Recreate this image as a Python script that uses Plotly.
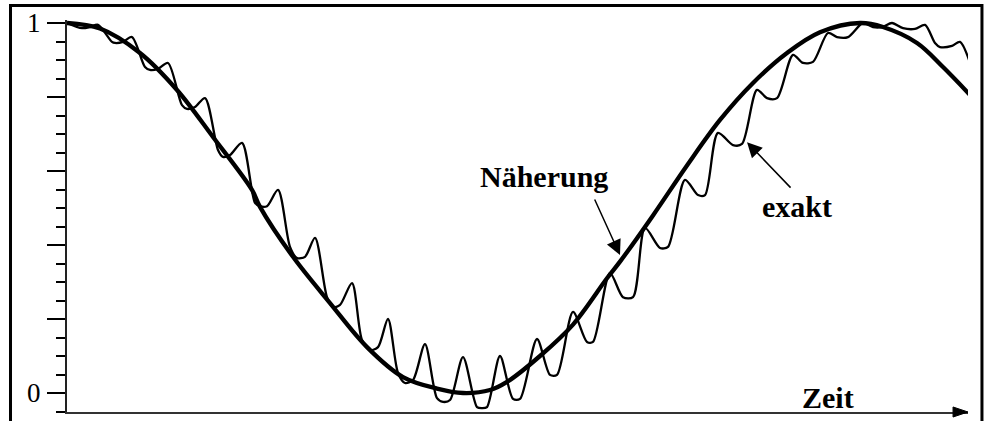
import plotly.graph_objects as go

# ---- data (time in arbitrary units, population 0..1) ----
t_naeherung = [0, 33, 73, 110, 146, 185, 193, 226, 263, 300, 336, 370, 396, 423, 440,
               473, 506, 540, 553, 586, 620, 653, 686, 720, 753, 793, 816, 850, 876, 906]
v_naeherung = [1.0, 0.985, 0.919, 0.819, 0.692, 0.549, 0.503, 0.368, 0.243, 0.124, 0.043,
               0.012, 0.0, 0.008, 0.03, 0.10, 0.185, 0.31, 0.355, 0.48, 0.615, 0.738,
               0.838, 0.919, 0.975, 1.0, 0.989, 0.946, 0.881, 0.797]

t_exakt = [0, 15, 23, 31, 45, 48, 56, 65, 78, 83, 91, 101, 115, 120, 128, 138, 151, 156,
           163, 175, 188, 193, 200, 211, 223, 230, 238, 248, 260, 266, 273, 285, 295, 303,
           311, 321, 331, 338, 346, 358, 370, 376, 383, 396, 410, 415, 420, 433, 446, 453,
           470, 483, 490, 506, 520, 526, 543, 556, 566, 578, 593, 601, 618, 631, 638, 651,
           666, 675, 690, 700, 710, 726, 736, 746, 761, 770, 781, 796, 806, 815, 825, 836,
           848, 858, 868, 873, 885, 893, 906]
v_exakt = [1.000, 0.986, 0.989, 0.995, 0.949, 0.946, 0.949, 0.962, 0.881, 0.873, 0.876,
           0.892, 0.778, 0.768, 0.773, 0.797, 0.657, 0.638, 0.643, 0.676, 0.514, 0.505,
           0.505, 0.549, 0.395, 0.365, 0.368, 0.419, 0.259, 0.232, 0.238, 0.297, 0.143,
           0.116, 0.124, 0.200, 0.054, 0.027, 0.035, 0.132, -0.014, -0.024, -0.019, 0.097,
           -0.038, -0.041, -0.038, 0.100, -0.016, -0.016, 0.146, 0.049, 0.049, 0.219,
           0.138, 0.138, 0.324, 0.259, 0.259, 0.446, 0.392, 0.395, 0.576, 0.535, 0.535,
           0.703, 0.670, 0.673, 0.819, 0.797, 0.797, 0.914, 0.892, 0.895, 0.973, 0.962,
           0.962, 1.000, 0.989, 0.989, 1.000, 0.986, 0.984, 0.995, 0.946, 0.935, 0.938,
           0.949, 0.868]

y_tickvals = [0, 0.2, 0.4, 0.6, 0.8, 1.0]
y_ticktext = ["0", "", "", "", "", "1"]

SERIF = "Liberation Serif, Times New Roman, serif"

fig = go.Figure()
fig.add_trace(go.Scatter(x=t_exakt, y=v_exakt, mode="lines",
                         line=dict(color="black", width=2.3, shape="spline", smoothing=0.8),
                         name="exakt", hoverinfo="skip"))
fig.add_trace(go.Scatter(x=t_naeherung, y=v_naeherung, mode="lines",
                         line=dict(color="black", width=4.3, shape="spline", smoothing=1.0),
                         name="Näherung", hoverinfo="skip"))

fig.update_layout(
    width=989, height=421,
    margin=dict(l=67, r=21, t=20, b=9),
    paper_bgcolor="white", plot_bgcolor="white",
    showlegend=False,
    xaxis=dict(range=[0, 901], showgrid=False, zeroline=False, showticklabels=False,
               ticks="", showline=True, linecolor="#333", linewidth=2),
    yaxis=dict(range=[-0.05135, 1.0081], showgrid=False, zeroline=False,
               tickmode="array", tickvals=y_tickvals, ticktext=y_ticktext,
               ticks="outside", ticklen=18, tickwidth=2, tickcolor="black",
               tickfont=dict(family=SERIF, size=27, color="black"),
               ticklabelstandoff=1,
               showline=True, linecolor="#222", linewidth=2,
               minor=dict(tickmode="linear", tick0=0, dtick=0.05, ticks="outside",
                          ticklen=9, tickwidth=2, tickcolor="black")),
)

# outer frame (bottom edge lies beyond the picture)
fig.add_shape(type="path", xref="paper", yref="paper",
              path="M -0.0627 -0.06 L -0.0627 1.0370 L 1.0155 1.0370 L 1.0155 -0.06",
              line=dict(color="black", width=3))
# arrowhead of the time axis
fig.add_shape(type="path", xref="paper", yref="paper",
              path="M 0.9834 0.0128 L 1.0 0 L 0.9834 -0.0128 Z",
              fillcolor="black", line=dict(color="black", width=1))

fig.add_annotation(x=477, y=0.584, text="<b>Näherung</b>", showarrow=False,
                   font=dict(family=SERIF, size=30, color="black"))
fig.add_annotation(x=730, y=0.505, text="<b>exakt</b>", showarrow=False,
                   font=dict(family=SERIF, size=30, color="black"))
fig.add_annotation(x=761, y=-0.011, text="<b>Zeit</b>", showarrow=False,
                   font=dict(family=SERIF, size=30, color="black"))

fig.add_annotation(x=553, y=0.373, ax=-26, ay=-57, text="", showarrow=True,
                   arrowhead=2, arrowsize=2, arrowwidth=1.5, arrowcolor="black")
fig.add_annotation(x=680, y=0.678, ax=45, ay=47, text="", showarrow=True,
                   arrowhead=2, arrowsize=2, arrowwidth=1.5, arrowcolor="black")

fig.write_html("out.html", config={"displayModeBar": False},
               post_script="document.body.style.margin='0px';document.body.style.padding='0px';")
